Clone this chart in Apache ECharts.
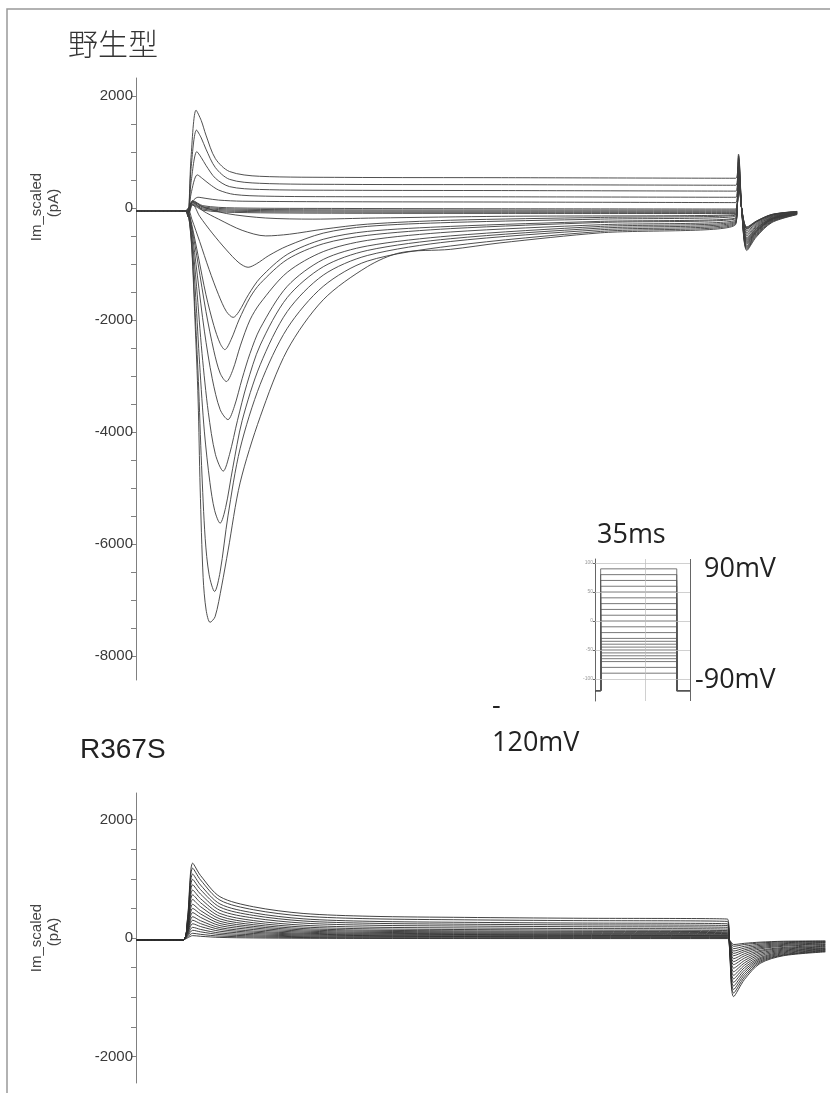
<!DOCTYPE html>
<html>
<head>
<meta charset="utf-8">
<script src="https://cdn.jsdelivr.net/npm/echarts@6/dist/echarts.min.js"></script>
<style>
  html, body { margin: 0; padding: 0; background: #fff; }
  #chart { width: 830px; height: 1093px; }
</style>
</head>
<body>
<div id="chart"></div>
<script>
// Wild type traces, [time ms, current pA]
const wtOutward = [
  [[-3.25,-50],[-0.1,-50],[0.05,-150],[0.25,900],[0.57,1745],[0.9,1560],[1.2,1300],[1.8,880],[2.7,650],[4.6,565],[10,545],[20,540],[34.9,530],[35.07,960],[35.3,-150],[35.6,-760],[36.2,-520],[37.2,-260],[38.8,-120]],
  [[-3.25,-50],[-0.1,-50],[0.05,-150],[0.25,700],[0.6,1390],[0.9,1250],[1.2,1050],[1.8,720],[2.7,510],[4.6,440],[10,420],[20,415],[34.9,405],[35.07,930],[35.3,-150],[35.6,-740],[36.2,-500],[37.2,-250],[38.8,-115]],
  [[-3.25,-50],[-0.1,-50],[0.05,-150],[0.25,450],[0.62,1005],[0.9,900],[1.2,760],[1.8,530],[2.7,380],[4.6,330],[10,315],[20,310],[34.9,300],[35.07,900],[35.3,-140],[35.6,-720],[36.2,-480],[37.2,-240],[38.8,-110]],
  [[-3.25,-50],[-0.1,-50],[0.05,-150],[0.25,250],[0.65,590],[1.0,520],[1.4,430],[2.0,320],[3.0,240],[5,210],[10,200],[20,198],[34.9,190],[35.07,860],[35.3,-130],[35.6,-700],[36.2,-460],[37.2,-230],[38.8,-105]],
  [[-3.25,-50],[-0.1,-50],[0.05,-150],[0.25,80],[0.7,190],[1.2,170],[2.0,140],[3.5,120],[10,110],[20,105],[34.9,95],[35.07,820],[35.3,-120],[35.6,-680],[36.2,-440],[37.2,-220],[38.8,-100]]
];

const wtInward = [
  [[-3.25,-50],[-0.1,-50],[0.1,-150],[0.3,-750],[0.5,-2000],[0.7,-3430],[0.83,-5000],[1.02,-6600],[1.21,-7180],[1.46,-7400],[1.78,-7300],[2.2,-6750],[2.61,-6110],[3.37,-4910],[4.65,-3730],[6.37,-2540],[8.66,-1640],[11.46,-1050],[13.56,-800],[16.74,-740],[19.9,-625],[26.29,-445],[34.88,-300],[35.07,760],[35.3,-120],[35.6,-650],[36.2,-430],[37.2,-210],[38.8,-100]],
  [[-3.25,-50],[-0.1,-50],[0.1,-150],[0.3,-700],[0.5,-1800],[0.72,-3100],[0.92,-4600],[1.15,-5900],[1.4,-6550],[1.75,-6850],[2.1,-6500],[2.6,-5500],[3.37,-4300],[4.65,-3150],[6.37,-2150],[8.66,-1400],[11.46,-950],[16.74,-680],[26.29,-420],[34.88,-285],[35.07,740],[35.3,-110],[35.6,-630],[36.2,-420],[37.2,-205],[38.8,-98]],
  [[-3.25,-50],[-0.1,-50],[0.1,-150],[0.3,-600],[0.55,-1600],[0.8,-2800],[1.1,-4000],[1.45,-4900],[1.75,-5400],[2.1,-5630],[2.45,-5350],[2.9,-4650],[3.5,-3800],[4.65,-2800],[6.37,-1850],[8.66,-1200],[11.46,-850],[16.74,-600],[26.29,-390],[34.88,-270],[35.07,720],[35.3,-100],[35.6,-610],[36.2,-410],[37.2,-200],[38.8,-96]],
  [[-3.25,-50],[-0.1,-50],[0.1,-120],[0.3,-500],[0.6,-1400],[0.95,-2600],[1.35,-3650],[1.8,-4400],[2.3,-4700],[2.7,-4400],[3.2,-3800],[3.8,-3150],[4.65,-2450],[6.37,-1600],[8.66,-1050],[11.46,-760],[16.74,-550],[26.29,-360],[34.88,-255],[35.07,700],[35.3,-100],[35.6,-590],[36.2,-400],[37.2,-195],[38.8,-94]],
  [[-3.25,-50],[-0.1,-50],[0.1,-100],[0.3,-400],[0.65,-1200],[1.1,-2200],[1.6,-3050],[2.1,-3600],[2.6,-3780],[3.0,-3550],[3.5,-3050],[4.0,-2600],[4.65,-2150],[6.37,-1400],[8.66,-920],[11.46,-680],[16.74,-500],[26.29,-330],[34.88,-240],[35.07,680],[35.3,-95],[35.6,-570],[36.2,-385],[37.2,-190],[38.8,-92]],
  [[-3.25,-50],[-0.1,-50],[0.1,-100],[0.3,-350],[0.7,-1000],[1.2,-1850],[1.7,-2550],[2.1,-2950],[2.5,-3100],[2.9,-2900],[3.4,-2450],[4.0,-2000],[4.65,-1700],[6.37,-1150],[8.66,-780],[11.46,-580],[16.74,-430],[26.29,-300],[34.88,-220],[35.07,660],[35.3,-90],[35.6,-550],[36.2,-370],[37.2,-185],[38.8,-90]],
  [[-3.25,-50],[-0.1,-50],[0.1,-80],[0.3,-300],[0.7,-850],[1.2,-1550],[1.7,-2100],[2.1,-2420],[2.4,-2530],[2.8,-2350],[3.3,-2000],[4.0,-1600],[4.65,-1350],[6.37,-920],[8.66,-640],[11.46,-490],[16.74,-370],[26.29,-260],[34.88,-195],[35.07,640],[35.3,-90],[35.6,-530],[36.2,-360],[37.2,-180],[38.8,-88]],
  [[-3.25,-50],[-0.1,-50],[0.1,-50],[0.3,-200],[0.8,-600],[1.4,-1100],[2.0,-1550],[2.5,-1850],[2.93,-1955],[3.3,-1850],[3.9,-1550],[4.65,-1250],[6.37,-830],[8.66,-560],[11.46,-420],[16.74,-330],[26.29,-240],[34.88,-180],[35.07,620],[35.3,-85],[35.6,-500],[36.2,-340],[37.2,-170],[38.8,-85]],
  [[-3.25,-50],[-0.1,-50],[0.1,0],[0.35,60],[0.8,-150],[1.6,-450],[2.5,-750],[3.3,-980],[3.88,-1060],[4.4,-1000],[5.2,-850],[6.37,-680],[8.66,-450],[11.46,-330],[16.74,-260],[26.29,-200],[34.88,-150],[35.07,600],[35.3,-80],[35.6,-470],[36.2,-320],[37.2,-160],[38.8,-82]],
  [[-3.25,-50],[-0.1,-50],[0.1,0],[0.35,100],[1.0,-50],[2.0,-200],[3.5,-400],[5.0,-500],[6.5,-470],[8.66,-380],[11.46,-290],[16.74,-220],[26.29,-170],[34.88,-130],[35.07,580],[35.3,-80],[35.6,-440],[36.2,-300],[37.2,-150],[38.8,-80]],
  [[-3.25,-50],[-0.1,-50],[0.1,0],[0.35,120],[1.0,20],[2.5,-100],[5,-180],[8,-200],[12,-180],[20,-150],[34.88,-120],[35.07,560],[35.3,-75],[35.6,-410],[36.2,-280],[37.2,-140],[38.8,-78]]
];

const wtFlat = [
  [[-3.25,-50],[-0.1,-50],[0.1,-20],[0.35,130],[1.0,40],[3,0],[10,-10],[20,-15],[34.88,-20],[35.07,520],[35.3,-70],[35.6,-380],[36.2,-260],[37.2,-130],[38.8,-70]],
  [[-3.25,-50],[-0.1,-50],[0.1,-40],[0.35,110],[1.0,20],[3,-20],[10,-35],[20,-38],[34.88,-40],[35.07,500],[35.3,-70],[35.6,-370],[36.2,-250],[37.2,-125],[38.8,-68]],
  [[-3.25,-50],[-0.1,-50],[0.1,-60],[0.35,90],[1.0,0],[3,-40],[10,-55],[20,-58],[34.88,-60],[35.07,480],[35.3,-65],[35.6,-360],[36.2,-245],[37.2,-120],[38.8,-66]],
  [[-3.25,-50],[-0.1,-50],[0.1,-80],[0.35,70],[1.0,-20],[3,-60],[10,-75],[20,-78],[34.88,-80],[35.07,460],[35.3,-65],[35.6,-350],[36.2,-240],[37.2,-118],[38.8,-64]],
  [[-3.25,-50],[-0.1,-50],[0.1,-100],[0.35,50],[1.0,-40],[3,-80],[10,-95],[20,-98],[34.88,-100],[35.07,440],[35.3,-60],[35.6,-340],[36.2,-235],[37.2,-115],[38.8,-62]]
];

// R367S traces: shared sample times (ms) and one current list (pA) per sweep
const mutTimes = [-3.1, -0.15, 0.15, 0.5, 1.0, 2.25, 4.4, 7.6, 11.9, 18, 25, 34.9, 35.05, 35.3, 36.0, 37.0, 38.5, 41.2];
const mutSweeps = [
  [-35,-35,300,1265,1057,698,528,415,367,348,334,320,-250,-990,-700,-430,-300,-235],
  [-35,-35,280,1180,982,640,478,370,325,307,294,280,-240,-930,-660,-410,-290,-225],
  [-35,-35,260,1080,895,576,425,324,282,265,253,240,-230,-870,-620,-390,-280,-215],
  [-35,-35,240,990,818,522,382,288,249,233,222,210,-220,-810,-580,-370,-265,-205],
  [-35,-35,220,900,742,468,338,252,216,202,191,180,-200,-750,-540,-350,-250,-195],
  [-35,-35,200,810,665,414,295,216,183,170,160,150,-190,-690,-500,-330,-235,-185],
  [-35,-35,180,730,597,367,258,186,155,143,134,125,-170,-630,-460,-305,-220,-175],
  [-35,-35,160,650,530,323,225,160,132,121,113,105,-160,-570,-420,-280,-205,-165],
  [-35,-35,140,570,464,282,196,138,114,104,97,90,-140,-510,-380,-255,-190,-150],
  [-35,-35,120,500,407,245,169,118,96,88,81,75,-130,-450,-340,-230,-175,-140],
  [-35,-35,100,430,349,209,143,99,80,73,68,62,-110,-400,-300,-210,-160,-125],
  [-35,-35,90,360,292,174,118,81,66,59,55,50,-100,-350,-265,-185,-140,-110],
  [-35,-35,75,300,243,144,97,66,53,48,44,40,-85,-300,-230,-165,-125,-100],
  [-35,-35,60,240,194,114,76,51,41,36,33,30,-75,-260,-200,-145,-110,-85],
  [-35,-35,45,180,145,84,55,36,28,25,22,20,-65,-220,-170,-125,-95,-75],
  [-35,-35,30,130,104,58,36,22,16,14,12,10,-55,-180,-140,-105,-80,-65],
  [-35,-35,15,80,62,32,18,8,4,2,1,0,-45,-140,-110,-85,-65,-55],
  [-35,-35,0,40,29,10,1,-5,-8,-9,-10,-10,-40,-110,-90,-70,-55,-50]
];

// voltage protocol inset (mV)
const stepLevels = [90,80,70,60,50,40,30,20,10,0,-10,-20,-30,-35,-40,-45,-50,-55,-60,-65,-70,-80,-90];
const holdingLevel = -120;
const pulseStart = 0, pulseEnd = 35;
const insetGridLevels = [100, 50, 0, -50, -100];

// axis ticks
const wtTickLabels = [2000, 0, -2000, -4000, -6000, -8000];
const wtMinorTicks = [2000,1500,1000,500,0,-500,-1000,-1500,-2000,-2500,-3000,-3500,-4000,-4500,-5000,-5500,-6000,-6500,-7000,-7500,-8000];
const mutTickLabels = [2000, 0, -2000];
const mutMinorTicks = [2000,1500,1000,500,0,-500,-1000,-1500,-2000];

const TRACE = '#3c3c3c';
const AX = '#808080';
const LBL = '#3a3a3a';
const SANS = '"Liberation Sans", Arial, sans-serif';
const CAL = '"Open Sans", Lato, sans-serif';

function traceSeries(data, idx, color) {
  return {
    type: 'line', xAxisIndex: idx, yAxisIndex: idx, data: data,
    symbol: 'none', smooth: 0.3, silent: true,
    lineStyle: { color: color || TRACE, width: 0.9 }
  };
}

const series = [];
wtOutward.concat(wtInward, wtFlat).forEach(d => series.push(traceSeries(d, 0)));
mutSweeps.forEach(vals => series.push(traceSeries(mutTimes.map((t, i) => [t, vals[i]]), 1, '#2e2e2e')));

stepLevels.forEach((v, i) => {
  const s = {
    type: 'line', xAxisIndex: 2, yAxisIndex: 2, symbol: 'none', silent: true,
    data: [[-2.6, holdingLevel], [pulseStart, holdingLevel], [pulseStart, v], [pulseEnd, v], [pulseEnd, holdingLevel], [41.4, holdingLevel]],
    lineStyle: { color: '#555', width: 0.8 }
  };
  if (i === 0) {
    s.markLine = {
      silent: true, symbol: 'none', label: { show: false },
      lineStyle: { color: '#bbb', width: 0.7, type: 'solid' },
      data: insetGridLevels.map(g => ({ yAxis: g }))
        .concat([{ xAxis: 20.7 }, { xAxis: 41.35, lineStyle: { color: '#666', width: 1 } }])
    };
  }
  series.push(s);
});

function yAxisFor(idx, min, max, minor, labels) {
  return {
    type: 'value', gridIndex: idx, min: min, max: max,
    axisLine: { show: true, onZero: false, lineStyle: { color: AX, width: 1 } },
    axisTick: { show: true, customValues: minor, length: 5, lineStyle: { color: AX } },
    axisLabel: { customValues: labels, color: LBL, fontSize: 15, fontFamily: SANS, margin: 3, formatter: v => String(v) },
    splitLine: { show: false }
  };
}

function rotText(text, x, y, size) {
  return {
    type: 'text', x: x, y: y, rotation: Math.PI / 2,
    style: { text: text, fill: '#444', font: size + 'px ' + SANS, align: 'center', verticalAlign: 'middle' }
  };
}

function plainText(text, x, y, font, fill) {
  return {
    type: 'text', x: x, y: y,
    style: { text: text, fill: fill || '#222', font: font, align: 'left', verticalAlign: 'middle' }
  };
}

const option = {
  animation: false,
  backgroundColor: '#fff',
  grid: [
    { left: 136, top: 78, width: 680, height: 602 },
    { left: 136, top: 793, width: 694, height: 290 },
    { left: 595, top: 559, width: 95.7, height: 142 }
  ],
  xAxis: [
    { type: 'value', gridIndex: 0, min: -3.25, max: 40, show: false },
    { type: 'value', gridIndex: 1, min: -3.15, max: 41.5, show: false },
    { type: 'value', gridIndex: 2, min: -2.6, max: 41.4, show: false }
  ],
  yAxis: [
    yAxisFor(0, -8430, 2320, wtMinorTicks, wtTickLabels),
    yAxisFor(1, -2450, 2450, mutMinorTicks, mutTickLabels),
    {
      type: 'value', gridIndex: 2, min: -138, max: 107,
      axisLine: { show: true, onZero: false, lineStyle: { color: '#666', width: 1 } },
      axisTick: { show: true, customValues: insetGridLevels, length: 2, lineStyle: { color: '#666' } },
      axisLabel: { customValues: insetGridLevels, color: '#999', fontSize: 5, fontFamily: SANS, margin: 2 },
      splitLine: { show: false }
    }
  ],
  graphic: [
    { type: 'polyline', shape: { points: [[7, 1093], [7, 9], [830, 9]] }, style: { stroke: '#999', lineWidth: 1.5, fill: null } },
    plainText('野生型', 68, 44, '300 30px "Noto Sans CJK JP", sans-serif', '#333'),
    plainText('R367S', 80, 750, '28px ' + SANS, '#222'),
    rotText('Im_scaled', 37, 207, 15),
    rotText('(pA)', 54, 203, 15),
    rotText('Im_scaled', 37, 938, 15),
    rotText('(pA)', 54, 932, 15),
    plainText('35ms', 597, 535, '27px ' + CAL),
    plainText('90mV', 704, 569, '27px ' + CAL),
    plainText('-90mV', 695, 680, '27px ' + CAL),
    plainText('-', 492, 706, '27px ' + CAL),
    plainText('120mV', 492, 743, '27px ' + CAL)
  ],
  series: series
};

const chart = echarts.init(document.getElementById('chart'));
chart.setOption(option);
</script>
</body>
</html>
